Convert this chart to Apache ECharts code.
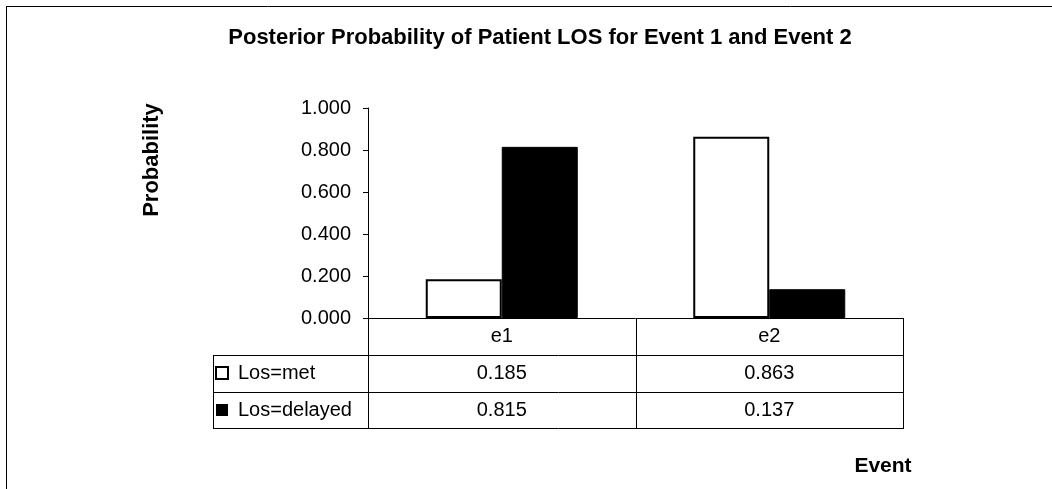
<!DOCTYPE html>
<html>
<head>
<meta charset="utf-8">
<script src="https://cdn.jsdelivr.net/npm/echarts@6/dist/echarts.min.js"></script>
<style>
html,body{margin:0;padding:0;background:#fff;}
#c{width:1052px;height:489px;}
</style>
</head>
<body>
<div id="c"></div>
<script>
const titleText = 'Posterior Probability of Patient LOS for Event 1 and Event 2';
const categories = ['e1', 'e2'];
const seriesNames = ['Los=met', 'Los=delayed'];
const losMet = [0.185, 0.863];
const losDelayed = [0.815, 0.137];
const yMin = 0, yMax = 1, yStep = 0.2;
const yAxisTitle = 'Probability';
const xAxisTitle = 'Event';

const FONT = '"Liberation Sans", Arial, sans-serif';
const chart = echarts.init(document.getElementById('c'), null, {renderer: 'canvas'});

function hline(x1, x2, y) {
  return {type: 'line', shape: {x1: x1, y1: y, x2: x2, y2: y}, style: {stroke: '#000', lineWidth: 1}, silent: true};
}
function vline(x, y1, y2) {
  return {type: 'line', shape: {x1: x, y1: y1, x2: x, y2: y2}, style: {stroke: '#000', lineWidth: 1}, silent: true};
}

const axisLabelBase = {color: '#000', fontSize: 20, fontFamily: FONT};

chart.setOption({
  animation: false,
  backgroundColor: '#fff',
  title: {
    text: titleText, left: 535, top: 22, textAlign: 'center',
    textStyle: {fontSize: 22, fontWeight: 'bold', color: '#000', fontFamily: FONT}
  },
  grid: {left: 368, right: 149, top: 108, bottom: 171, containLabel: false},
  legend: {
    orient: 'vertical', left: 215, top: 363, padding: 0, itemWidth: 12, itemHeight: 12, itemGap: 17,
    icon: 'rect',
    textStyle: {fontSize: 20, color: '#000', fontFamily: FONT, padding: [0, 0, 0, 5]},
    data: [
      {name: seriesNames[0], itemStyle: {color: '#fff', borderColor: '#000', borderWidth: 2}},
      {name: seriesNames[1], itemStyle: {color: '#000', borderColor: '#000', borderWidth: 0}}
    ]
  },
  xAxis: [
    {type: 'category', data: categories, position: 'bottom',
     axisLine: {show: true, lineStyle: {color: '#000', width: 1}}, axisTick: {show: false},
     axisLabel: Object.assign({margin: 8}, axisLabelBase)},
    {type: 'category', data: categories, position: 'bottom', offset: 37,
     axisLine: {show: false}, axisTick: {show: false},
     axisLabel: Object.assign({margin: 8, formatter: (v, i) => losMet[i].toFixed(3)}, axisLabelBase)},
    {type: 'category', data: categories, position: 'bottom', offset: 74,
     axisLine: {show: false}, axisTick: {show: false},
     axisLabel: Object.assign({margin: 8, formatter: (v, i) => losDelayed[i].toFixed(3)}, axisLabelBase)}
  ],
  yAxis: {
    type: 'value', min: yMin, max: yMax, interval: yStep,
    axisLine: {show: true, lineStyle: {color: '#000', width: 1}},
    axisTick: {show: true, length: 5, lineStyle: {color: '#000'}},
    splitLine: {show: false},
    axisLabel: Object.assign({margin: 17, formatter: v => v.toFixed(3)}, axisLabelBase)
  },
  series: [
    {name: seriesNames[0], type: 'bar', data: losMet, barWidth: 76, barGap: '0%',
     itemStyle: {color: '#fff', borderColor: '#000', borderWidth: 2}},
    {name: seriesNames[1], type: 'bar', data: losDelayed, barWidth: 76, barGap: '0%',
     itemStyle: {color: '#000', borderColor: '#000', borderWidth: 1}}
  ],
  graphic: [
    // outer frame
    hline(6, 1052, 6.5),
    vline(6.5, 6, 489),
    // data table grid
    vline(368.5, 318, 428),
    vline(636.5, 318, 428),
    vline(903.5, 318, 428),
    vline(213.5, 355, 428),
    hline(213, 904, 355.5),
    hline(213, 904, 392.5),
    hline(213, 904, 428.5),
    // axis titles
    {type: 'text', x: 152, y: 160, rotation: Math.PI / 2,
     style: {text: yAxisTitle, fill: '#000', font: 'bold 22px ' + FONT, align: 'center', verticalAlign: 'middle'}},
    {type: 'text', x: 883, y: 466,
     style: {text: xAxisTitle, fill: '#000', font: 'bold 21px ' + FONT, align: 'center', verticalAlign: 'middle'}}
  ]
});
</script>
</body>
</html>
